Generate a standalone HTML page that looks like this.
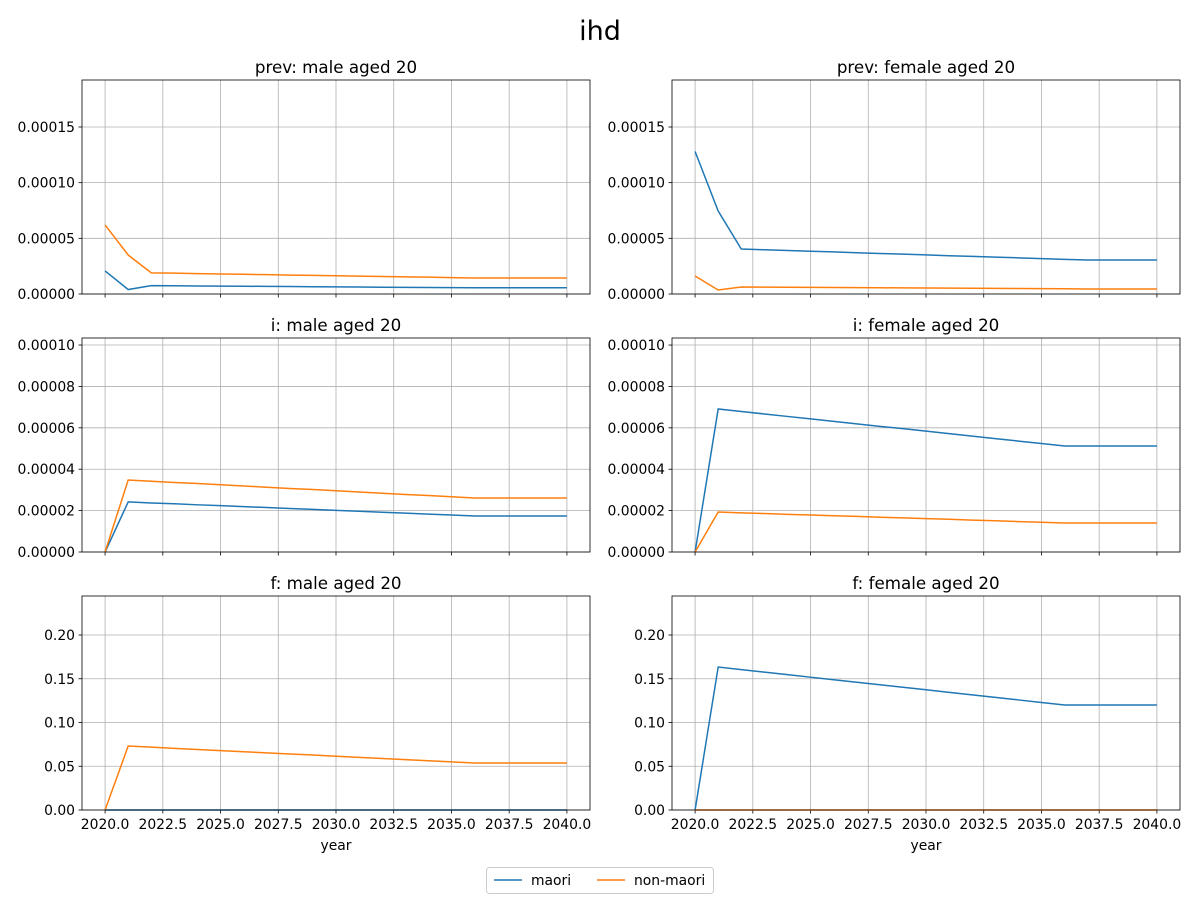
<!DOCTYPE html>
<html><head><meta charset="utf-8"><style>
body{margin:0;background:#fff;}
svg text{font-family:"DejaVu Sans","Liberation Sans",sans-serif;}
</style></head><body>
<svg id="fig" width="1200" height="900" xmlns="http://www.w3.org/2000/svg">
<rect width="1200" height="900" fill="#fff"/>
<text x="600" y="40" font-size="27" text-anchor="middle">ihd</text>
</svg>
<script>
const years = [2020,2021,2022,2023,2024,2025,2026,2027,2028,2029,2030,2031,2032,2033,2034,2035,2036,2037,2038,2039,2040];
const prevMaleMaori = [20.7,4.0,7.5,7.4,7.2,7.1,7.0,6.8,6.7,6.5,6.4,6.3,6.1,6.0,5.8,5.7,5.6,5.6,5.6,5.6,5.6];
const prevMaleNon = [62,35,19,18.7,18.3,18.0,17.7,17.4,17.0,16.7,16.4,16.0,15.7,15.4,15.1,14.7,14.4,14.4,14.4,14.4,14.4];
const prevFemMaori = [128,74.5,40.4,39.7,39.1,38.4,37.8,37.1,36.4,35.8,35.1,34.4,33.8,33.1,32.5,31.8,31.1,30.5,30.5,30.5,30.5];
const prevFemNon = [16.2,3.6,6.3,6.2,6.1,6.0,5.8,5.7,5.6,5.5,5.4,5.3,5.2,5.0,4.9,4.8,4.7,4.5,4.5,4.5,4.5];
const iMaleMaori = [0,24.2,23.7,23.3,22.8,22.4,21.9,21.5,21.0,20.6,20.1,19.7,19.2,18.8,18.3,17.9,17.4,17.4,17.4,17.4,17.4];
const iMaleNon = [0,34.8,34.2,33.6,33.1,32.5,31.9,31.3,30.7,30.2,29.6,29.0,28.4,27.8,27.3,26.7,26.1,26.1,26.1,26.1,26.1];
const iFemMaori = [0,69.1,67.9,66.7,65.5,64.3,63.1,61.9,60.7,59.6,58.4,57.2,56.0,54.8,53.6,52.4,51.2,51.2,51.2,51.2,51.2];
const iFemNon = [0,19.3,18.9,18.6,18.2,17.9,17.5,17.2,16.8,16.5,16.1,15.8,15.4,15.1,14.7,14.4,14.0,14.0,14.0,14.0,14.0];
const fMaleMaori = [0,0,0,0,0,0,0,0,0,0,0,0,0,0,0,0,0,0,0,0,0];
const fMaleNon = [0,.0731,.0718,.0705,.0692,.0679,.0666,.0653,.0640,.0628,.0615,.0602,.0589,.0576,.0563,.0550,.0537,.0537,.0537,.0537,.0537];
const fFemMaori = [0,.1634,.1605,.1576,.1547,.1518,.1489,.1460,.1431,.1403,.1374,.1345,.1316,.1287,.1258,.1229,.1200,.1200,.1200,.1200,.1200];
const fFemNon = [0,0,0,0,0,0,0,0,0,0,0,0,0,0,0,0,0,0,0,0,0];
const xTicks = [2020,2022.5,2025,2027.5,2030,2032.5,2035,2037.5,2040];
const yTicksPrev = [0,0.00005,0.0001,0.00015];
const yTicksI = [0,0.00002,0.00004,0.00006,0.00008,0.0001];
const yTicksF = [0,0.05,0.1,0.15,0.2];

const NS="http://www.w3.org/2000/svg", svg=document.getElementById('fig');
function mk(tag,attrs,parent){const e=document.createElementNS(NS,tag);for(const k in attrs)e.setAttribute(k,attrs[k]);(parent||svg).appendChild(e);return e;}
const e6=a=>a.map(v=>v*1e-6);
const panels=[
 {t:"prev: male aged 20",col:0,row:0,ymax:0.0001922,ticks:yTicksPrev,dec:5,m:e6(prevMaleMaori),n:e6(prevMaleNon)},
 {t:"prev: female aged 20",col:1,row:0,ymax:0.0001922,ticks:yTicksPrev,dec:5,m:e6(prevFemMaori),n:e6(prevFemNon)},
 {t:"i: male aged 20",col:0,row:1,ymax:0.0001034,ticks:yTicksI,dec:5,m:e6(iMaleMaori),n:e6(iMaleNon)},
 {t:"i: female aged 20",col:1,row:1,ymax:0.0001034,ticks:yTicksI,dec:5,m:e6(iFemMaori),n:e6(iFemNon)},
 {t:"f: male aged 20",col:0,row:2,ymax:0.2446,ticks:yTicksF,dec:2,m:fMaleMaori,n:fMaleNon},
 {t:"f: female aged 20",col:1,row:2,ymax:0.2446,ticks:yTicksF,dec:2,m:fFemMaori,n:fFemNon},
];
const L=[82,672],W=508,T=[80,338,596],H=214;
panels.forEach((p,i)=>{
 const x0=L[p.col],y0=T[p.row];
 const g=mk('g',{});
 
 
 const X=v=>x0+(v-2019)/22*W, Y=v=>y0+H-v/p.ymax*H;
 xTicks.forEach(t=>{
  mk('line',{x1:X(t),x2:X(t),y1:y0,y2:y0+H,stroke:'#b0b0b0','stroke-width':0.8},g);
  mk('line',{x1:X(t),x2:X(t),y1:y0+H,y2:y0+H+3.5,stroke:'#000','stroke-width':0.8},g);
  if(p.row===2){const tx=mk('text',{x:X(t),y:y0+H+19,'font-size':13.9,'text-anchor':'middle'},g);tx.textContent=t.toFixed(1);
   }
 });
 p.ticks.forEach(t=>{
  mk('line',{x1:x0,x2:x0+W,y1:Y(t),y2:Y(t),stroke:'#b0b0b0','stroke-width':0.8},g);
  mk('line',{x1:x0-3.5,x2:x0,y1:Y(t),y2:Y(t),stroke:'#000','stroke-width':0.8},g);
  const tx=mk('text',{x:x0-7,y:Y(t)+5,'font-size':13.9,'text-anchor':'end'},g);tx.textContent=t.toFixed(p.dec);
  
 });
 [[p.m,'#1f77b4','maori'],[p.n,'#ff7f0e','non-maori']].forEach(([arr,c,nm])=>{
  const pl=mk('polyline',{points:arr.map((v,k)=>X(years[k])+','+Y(v)).join(' '),fill:'none',stroke:c,'stroke-width':1.5},g);
  
 });
 mk('rect',{x:x0,y:y0,width:W,height:H,fill:'none',stroke:'#000','stroke-width':0.8},g);
 const tt=mk('text',{x:x0+W/2,y:y0-7,'font-size':16.7,'text-anchor':'middle'},g);tt.textContent=p.t;
 
 if(p.row===2){const xl=mk('text',{x:x0+W/2,y:y0+H+40,'font-size':13.9,'text-anchor':'middle'},g);xl.textContent='year';
  }
});
const lg=mk('g',{});


mk('rect',{x:486.5,y:867.5,width:227,height:26,rx:3,fill:'#fff',stroke:'#ccc'},lg);
mk('line',{x1:494,x2:522,y1:880,y2:880,stroke:'#1f77b4','stroke-width':1.5},lg);
let t1=mk('text',{x:531,y:885,'font-size':13.9},lg);t1.textContent='maori';

mk('line',{x1:597,x2:625,y1:880,y2:880,stroke:'#ff7f0e','stroke-width':1.5},lg);
let t2=mk('text',{x:634,y:885,'font-size':13.9},lg);t2.textContent='non-maori';

</script>
</body></html>
